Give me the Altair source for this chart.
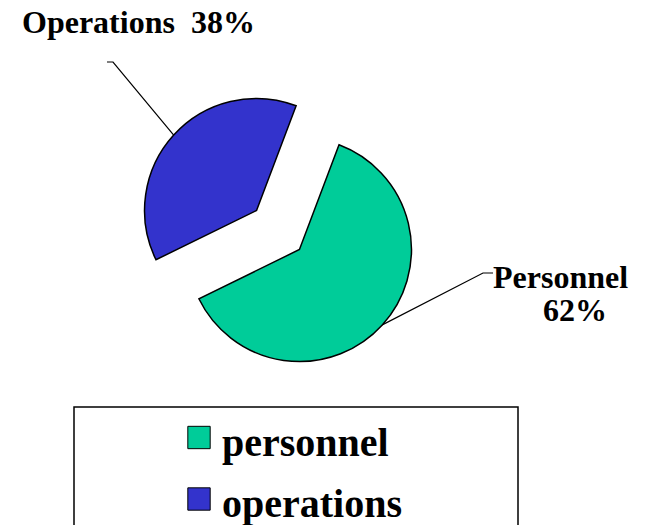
import math
import altair as alt
import pandas as pd

# ---- data ----
categories = ["personnel", "operations"]
values = [62, 38]
colors = ["#00CC99", "#3333CC"]
slice_labels = ["Personnel", "Operations\u00a0 38%"]
pct_labels = ["62%", ""]

# ---- layout (plot-area pixels) ----
W, H = 630, 517
CX, CY = 270, 222        # unexploded pie centre
R = 112                  # pie radius
EXPLODE = 29             # explode distance
START_DEG = 20.7         # start angle of first slice (clockwise from 12 o'clock)
FONT = "Liberation Serif"

total = float(sum(values))
rows = []
a = math.radians(START_DEG)
for cat, v in zip(categories, values):
    t0 = a
    t1 = a + v / total * 2 * math.pi
    mid = (t0 + t1) / 2
    cx = CX + EXPLODE * math.sin(mid)
    cy = CY - EXPLODE * math.cos(mid)
    rows.append(dict(category=cat, value=v, t0=t0, t1=t1, mid=mid, cx=cx, cy=cy))
    a = t1
slices = pd.DataFrame(rows)

def edge(i):
    r = slices.iloc[i]
    return (r.cx + R * math.sin(r.mid), r.cy - R * math.cos(r.mid))

p_start = edge(0)
o_start = edge(1)
leaders = pd.DataFrame([
    dict(g="personnel", order=0, x=p_start[0], y=p_start[1]),
    dict(g="personnel", order=1, x=475, y=265),
    dict(g="personnel", order=2, x=485, y=265),
    dict(g="operations", order=0, x=o_start[0], y=o_start[1]),
    dict(g="operations", order=1, x=105, y=54),
    dict(g="operations", order=2, x=99, y=54),
])

labels = pd.DataFrame([
    dict(text=slice_labels[1], x=14, y=25),
    dict(text=slice_labels[0], x=485, y=280),
    dict(text=pct_labels[0], x=535, y=313),
])

# manual legend rows
LEG_SYM_X, LEG_TXT_X = 191, 214
LEG_Y0, LEG_STEP = 429.5, 61.5
legend_df = pd.DataFrame({
    "category": categories,
    "sx": [LEG_SYM_X] * len(categories),
    "tx": [LEG_TXT_X] * len(categories),
    "sy": [LEG_Y0 + i * LEG_STEP for i in range(len(categories))],
    "ty": [LEG_Y0 + 18 + i * LEG_STEP for i in range(len(categories))],
})

color_enc = alt.Color("category:N", scale=alt.Scale(domain=categories, range=colors), legend=None)

pie = alt.Chart(slices).mark_arc(radius=R, stroke="black", strokeWidth=1.5).encode(
    theta=alt.Theta("t0:Q", scale=None, stack=None),
    theta2="t1:Q",
    x=alt.X("cx:Q", scale=None),
    y=alt.Y("cy:Q", scale=None),
    color=color_enc,
)

lines = alt.Chart(leaders).mark_line(color="black", strokeWidth=1.2).encode(
    x=alt.X("x:Q", scale=None),
    y=alt.Y("y:Q", scale=None),
    detail="g:N",
    order="order:Q",
)

texts = alt.Chart(labels).mark_text(
    font=FONT, fontWeight="bold", fontSize=32, align="left", baseline="alphabetic", color="black"
).encode(
    x=alt.X("x:Q", scale=None),
    y=alt.Y("y:Q", scale=None),
    text="text:N",
)

box = alt.Chart(pd.DataFrame({"k": [0]})).mark_rect(
    fill=None, stroke="black", strokeWidth=1.5
).encode(
    x=alt.value(66), x2=alt.value(510), y=alt.value(399), y2=alt.value(560)
)

leg_sym = alt.Chart(legend_df).mark_square(
    size=500, stroke="black", strokeWidth=1, opacity=1
).encode(
    x=alt.X("sx:Q", scale=None),
    y=alt.Y("sy:Q", scale=None),
    color=color_enc,
)

leg_txt = alt.Chart(legend_df).mark_text(
    font=FONT, fontWeight="bold", fontSize=40, align="left", baseline="alphabetic", color="black"
).encode(
    x=alt.X("tx:Q", scale=None),
    y=alt.Y("ty:Q", scale=None),
    text="category:N",
)

chart = alt.layer(box, lines, pie, texts, leg_sym, leg_txt).properties(
    width=W, height=H,
    autosize=alt.AutoSizeParams(type="none"),
    padding=0,
    background="white",
).configure_view(stroke=None)

chart.save("out.html", embed_options={"renderer": "svg", "actions": False})
